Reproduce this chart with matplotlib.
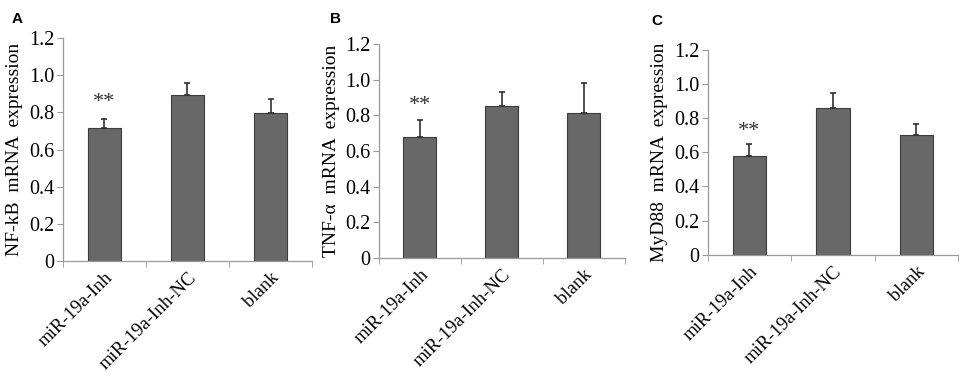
import matplotlib
matplotlib.use("Agg")
import matplotlib.pyplot as plt
import numpy as np

categories = ["miR-19a-Inh", "miR-19a-Inh-NC", "blank"]
nfkb_vals = [0.717, 0.895, 0.798]
nfkb_err = [0.049, 0.061, 0.076]
tnfa_vals = [0.680, 0.853, 0.812]
tnfa_err = [0.095, 0.079, 0.172]
myd88_vals = [0.576, 0.859, 0.700]
myd88_err = [0.072, 0.088, 0.067]
ylabels = ["NF-kB  mRNA  expression", "TNF-\u03b1  mRNA  expression", "MyD88  mRNA  expression"]
panel_letters = ["A", "B", "C"]
star_y = [0.80, 0.80, 0.665]
yticks = [0, 0.2, 0.4, 0.6, 0.8, 1.0, 1.2]
yticklabels = ["0", "0.2", "0.4", "0.6", "0.8", "1.0", "1.2"]

fig = plt.figure(figsize=(9.64, 3.72), dpi=100)
positions = [
    [0.065, 0.298, 0.259, 0.600],
    [0.393, 0.307, 0.255, 0.574],
    [0.734, 0.315, 0.260, 0.551],
]
letter_pos = [(0.012, 0.968), (0.342, 0.968), (0.676, 0.962)]
data = [(nfkb_vals, nfkb_err), (tnfa_vals, tnfa_err), (myd88_vals, myd88_err)]

serif = "Liberation Serif"
for i, (vals, errs) in enumerate(data):
    ax = fig.add_axes(positions[i])
    x = np.arange(len(categories))
    ax.bar(x, vals, width=0.4, color="#686868", edgecolor="#3c3c3c", linewidth=0.8, zorder=2)
    ax.errorbar(x, vals, yerr=[np.zeros(len(errs)), errs], fmt="none",
                ecolor="#303030", elinewidth=1.2, capsize=2.5, capthick=1.2, zorder=3)
    ax.text(0, star_y[i], "**", ha="center", va="bottom", fontsize=16,
            family=serif, color="#333333")
    ax.set_xlim(-0.5, 2.5)
    ax.set_ylim(0, 1.2)
    ax.set_yticks(yticks)
    ax.set_yticklabels(yticklabels, family=serif, fontsize=14.5)
    ax.set_xticks(x)
    ax.set_xticklabels(categories, rotation=45, ha="right", rotation_mode="anchor",
                       family=serif, fontsize=13.5)
    ax.tick_params(axis="x", length=0, pad=6)
    ax.set_xticks([-0.5, 0.5, 1.5, 2.5], minor=True)
    ax.tick_params(axis="x", which="minor", length=4, color="#999999", direction="out")
    ax.tick_params(axis="y", length=4, color="#999999", direction="out", pad=2)
    for s in ["top", "right"]:
        ax.spines[s].set_visible(False)
    for s in ["left", "bottom"]:
        ax.spines[s].set_color("#999999")
        ax.spines[s].set_linewidth(0.9)
    ax.set_ylabel(ylabels[i], family=serif, fontsize=14, labelpad=4)
    fig.text(letter_pos[i][0], letter_pos[i][1], panel_letters[i], family="Liberation Sans",
             fontweight="bold", fontsize=11, ha="left", va="top")

fig.savefig("out.png", dpi=100, facecolor="white")
